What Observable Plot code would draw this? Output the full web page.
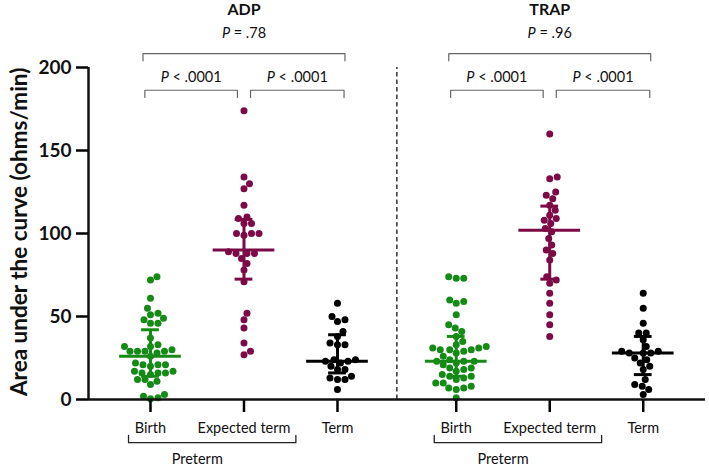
<!DOCTYPE html>
<html><head><meta charset="utf-8">
<script src="https://cdn.jsdelivr.net/npm/d3@7"></script>
<script src="https://cdn.jsdelivr.net/npm/@observablehq/plot@0.6"></script>
<style>body{margin:0;background:#fff}svg{display:block}</style>
</head><body><div id="chart"></div>
<script>
// ---------- data ----------
const panels = ["ADP", "TRAP"];
const groups = ["Birth", "Expected term", "Term"];
const groupColors = ["#168a16", "#7b0a46", "#000000"];

const adpBirth = [74, 72, 61, 55, 52, 51, 49, 48, 46, 46, 37, 33, 32, 32, 30, 29, 29, 29, 29, 28, 26, 22, 21, 21, 20, 21, 17, 16, 16, 15, 16, 17, 12, 12, 11, 9, 3, 2, 1, 0.5];
const adpExpected = [174, 134, 130, 127, 117, 110, 109, 106, 106, 100, 100, 99, 100, 88, 88, 88, 89, 85, 82, 78, 71, 52, 48, 43, 34, 27, 29];
const adpTerm = [58, 50, 47, 48, 41, 38, 34, 33, 33, 24, 23, 24, 23, 22, 18, 20, 18, 14, 13, 12, 12, 6];

const trapBirth = [74, 73, 73, 60, 59, 58, 51, 45, 43, 41, 38, 35, 33, 32, 31, 31, 30, 30, 30, 29, 28, 26, 24, 23, 23, 23, 22, 21, 19, 19, 18, 17, 15, 14, 14, 13, 12, 10, 10, 8, 7, 7, 6, 1];
const trapExpected = [160, 134, 133, 125, 123, 121, 117, 114, 111, 109, 108, 106, 103, 101, 97, 93, 90, 88, 84, 74, 72, 70, 64, 58, 51, 45, 38];
const trapTerm = [64, 55, 46, 40, 40, 36, 32, 29, 28, 28, 29, 28, 24, 25, 22, 20, 18, 12, 9, 8, 6, 3];

const adpMedian = [26, 90, 23];
const adpQ1 = [14, 72.5, 16];
const adpQ3 = [42, 108.5, 39];
const trapMedian = [23, 102, 28];
const trapQ1 = [14, 72.5, 15];
const trapQ3 = [38, 116.5, 38];

const pLabels = ["P < .0001", "P < .0001"];  // Birth vs Expected, Expected vs Term
const adpPOverall = "P = .78";
const trapPOverall = "P = .96";
const yTicks = [0, 50, 100, 150, 200];
const yLabel = "Area under the curve (ohms/min)";
const pretermLabel = "Preterm";

// ---------- layout ----------
const W = 709, H = 466, mL = 88, mR = 4, mT = 67, mB = 67;
const xDom = [0.337, 6.936];
const yDom = [0, 200];
const panelOffset = [0, 3.27];
const kx = (W - mL - mR) / (xDom[1] - xDom[0]);
const ky = (H - mT - mB) / (yDom[1] - yDom[0]);
const pos = (p, g) => 1 + panelOffset[p] + g;

// beeswarm offsets (pixel collision avoidance, converted to x units)
function swarm(vals, center) {
  const D = 7.2;
  const order = vals.map((v, i) => i).sort((a, b) => vals[a] - vals[b]);
  const placed = [], xs = new Array(vals.length);
  for (const i of order) {
    const y = vals[i] * ky;
    let off = 0;
    search: for (let s = 0; s < 300; s += 0.5) {
      for (const c of (s === 0 ? [0] : [s, -s])) {
        if (placed.every(p => (p.x - c) ** 2 + (p.y - y) ** 2 >= D * D)) { off = c; break search; }
      }
    }
    placed.push({x: off, y});
    xs[i] = center + off / kx;
  }
  return xs;
}

const series = [[adpBirth, adpExpected, adpTerm], [trapBirth, trapExpected, trapTerm]];
const stats = [[adpMedian, adpQ1, adpQ3], [trapMedian, trapQ1, trapQ3]];
const dots = [], summary = [];
series.forEach((ps, p) => ps.forEach((vals, g) => {
  const xs = swarm(vals, pos(p, g));
  vals.forEach((v, i) => dots.push({x: xs[i], y: v, color: groupColors[g]}));
  summary.push({x: pos(p, g), med: stats[p][0][g], q1: stats[p][1][g], q3: stats[p][2][g], color: groupColors[g]});
}));

// brackets
const brackets = [];
const bracketTexts = [];
panels.forEach((name, p) => {
  const B = pos(p, 0), E = pos(p, 1), T = pos(p, 2);
  const defs = [
    {x1: B - 0.06, x2: E - 0.07, y: 186.3, t: pLabels[0], ty: 194.3},
    {x1: E + 0.07, x2: T + 0.07, y: 186.3, t: pLabels[1], ty: 194.3},
    {x1: B - 0.08, x2: T + 0.08, y: 208.3, t: p === 0 ? adpPOverall : trapPOverall, ty: 220.5}
  ];
  defs.forEach((d, k) => {
    const id = name + k;
    brackets.push({id, x: d.x1, y: d.y - 4.3}, {id, x: d.x1, y: d.y}, {id, x: d.x2, y: d.y}, {id, x: d.x2, y: d.y - 4.3});
    bracketTexts.push({x: (d.x1 + d.x2) / 2, y: d.ty, t: d.t});
  });
});
const preterm = [];
panels.forEach((name, p) => {
  const B = pos(p, 0), E = pos(p, 1);
  preterm.push({id: name, x: B - 0.235, y: -21.7}, {id: name, x: B - 0.235, y: -26}, {id: name, x: E + 0.555, y: -26}, {id: name, x: E + 0.555, y: -21.7});
});
const xTicks = [], xTickLabels = new Map();
panels.forEach((n, p) => groups.forEach((g, j) => { xTicks.push(pos(p, j)); xTickLabels.set(pos(p, j), g); }));
const divider = (pos(0, 2) + pos(1, 0)) / 2;

const chart = Plot.plot({
  width: W, height: H,
  marginLeft: mL, marginRight: mR, marginTop: mT, marginBottom: mB,
  style: {fontFamily: "Lato, 'Open Sans', sans-serif", background: "#fff", overflow: "visible"},
  x: {domain: xDom, axis: null},
  y: {domain: yDom, axis: null},
  color: {type: "identity"},
  marks: [
    Plot.ruleX([divider], {y1: 0, y2: 200, stroke: "#222", strokeWidth: 1.4, strokeDasharray: "4.5,3"}),
    Plot.dot(dots, {x: "x", y: "y", r: 3.5, fill: "color", stroke: null}),
    Plot.ruleX(summary, {x: "x", y1: "q1", y2: "q3", stroke: "color", strokeWidth: 3}),
    Plot.ruleY(summary, {y: "med", x1: d => d.x - 0.33, x2: d => d.x + 0.33, stroke: "color", strokeWidth: 3}),
    Plot.ruleY(summary, {y: "q1", x1: d => d.x - 0.095, x2: d => d.x + 0.095, stroke: "color", strokeWidth: 3}),
    Plot.ruleY(summary, {y: "q3", x1: d => d.x - 0.095, x2: d => d.x + 0.095, stroke: "color", strokeWidth: 3}),
    // axes
    Plot.axisY({ticks: yTicks, tickSize: 12, tickPadding: 5, fontSize: 19, fontWeight: "bold", strokeWidth: 2.5, label: null, fill: "#111"}),
    Plot.ruleX([xDom[0]], {y1: 0, y2: 200, strokeWidth: 2.5, stroke: "#111"}),
    Plot.axisX({ticks: xTicks, tickFormat: d => xTickLabels.get(d), tickSize: 13, tickPadding: 10, fontSize: 14.5, strokeWidth: 2.5, label: null, fill: "#111"}),
    Plot.ruleY([0], {strokeWidth: 2.5, stroke: "#111"}),
    Plot.text([yLabel], {frameAnchor: "left", y: [101], text: d => d, dx: -69, rotate: -90, textAnchor: "middle", fontSize: 22.5, fontWeight: "bold", fill: "#111"}),
    // panel titles
    Plot.text(panels, {x: (d, i) => pos(i, 1), y: [234.6, 234.6], text: d => d, fontSize: 16, fontWeight: "bold", fill: "#111"}),
    // brackets
    Plot.line(brackets, {x: "x", y: "y", z: "id", stroke: "#666", strokeWidth: 1.2}),
    Plot.text(bracketTexts, {x: "x", y: "y", text: "t", fontSize: 14.5, fill: "#111"}),
    Plot.line(preterm, {x: "x", y: "y", z: "id", stroke: "#222", strokeWidth: 1.3}),
    Plot.text(panels, {x: (d, i) => (pos(i, 0) + pos(i, 1)) / 2, y: [-35.8, -35.8], text: () => pretermLabel, fontSize: 14.5, fill: "#111"})
  ]
});
// italic "P"
chart.querySelectorAll("text").forEach(t => {
  const s = t.textContent;
  if (/^P [<=]/.test(s) && t.children.length === 0) {
    t.textContent = "";
    const a = document.createElementNS("http://www.w3.org/2000/svg", "tspan");
    a.setAttribute("font-style", "italic"); a.textContent = "P";
    t.appendChild(a);
    t.appendChild(document.createTextNode(s.slice(1)));
  }
});
document.getElementById("chart").appendChild(chart);
</script></body></html>
